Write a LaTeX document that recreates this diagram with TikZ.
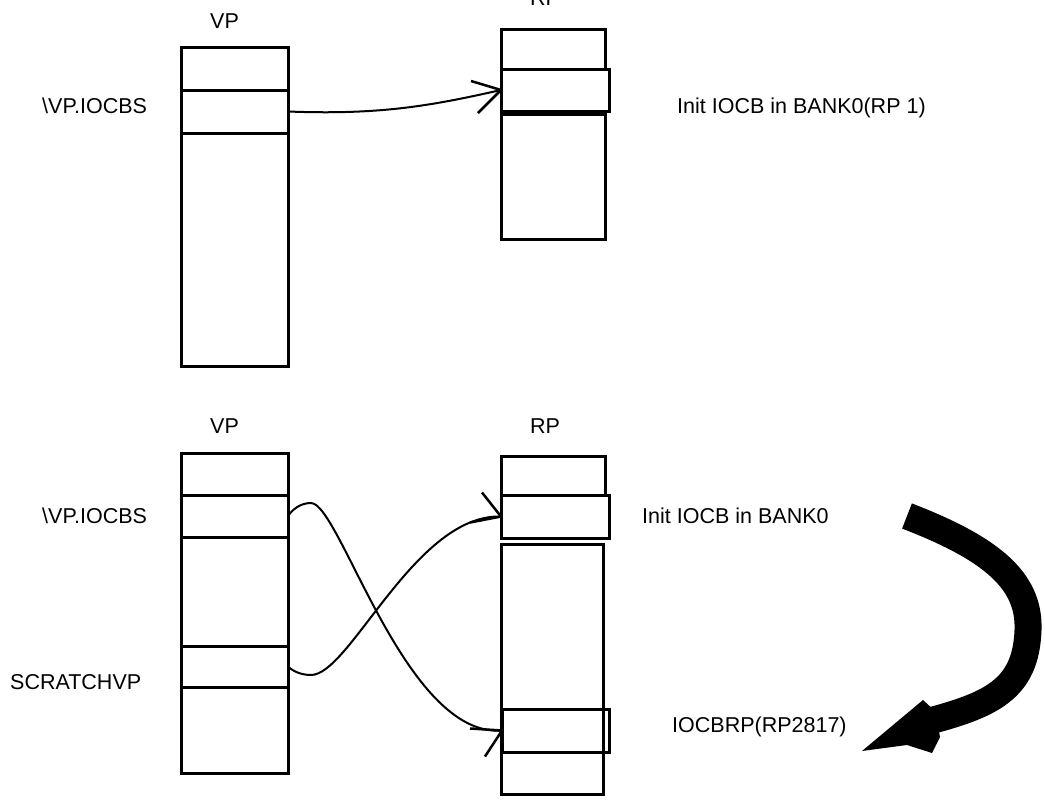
\documentclass[tikz,border=0pt]{standalone}
\usepackage{fontspec}
\setmainfont{Liberation Sans}
\begin{document}
\begin{tikzpicture}[x=1pt,y=-1pt,
  cell/.style={draw=black,line width=3pt,inner sep=0pt,outer sep=0pt,anchor=north west},
  lbl/.style={anchor=base west,inner sep=0pt,font=\fontsize{21.5}{25}\selectfont},
  link/.style={draw=black,line width=2pt},
  barb/.style={draw=black,line width=2.5pt}]
\useasboundingbox (0,0) rectangle (1045,804);
\fill[white] (0,0) rectangle (1045,804);
% ---- top VP
\node[cell,minimum width=107pt,minimum height=43pt] (vp1a) at (181,47) {};
\node[cell,minimum width=107pt,minimum height=43pt] (vp1b) at (181,90) {};
\node[cell,minimum width=107pt,minimum height=233pt] (vp1c) at (181,133) {};
% ---- top RP
\node[cell,minimum width=104pt,minimum height=40pt] (rp1a) at (501,29) {};
\node[cell,minimum width=108pt,minimum height=42pt] (rp1b) at (501,69) {};
\node[cell,minimum width=104pt,minimum height=125pt] (rp1c) at (501,114) {};
% ---- bottom VP
\node[cell,minimum width=107pt,minimum height=42pt] (vp2a) at (181,453) {};
\node[cell,minimum width=107pt,minimum height=42pt] (vp2b) at (181,495) {};
\node[cell,minimum width=107pt,minimum height=109pt] (vp2c) at (181,537) {};
\node[cell,minimum width=107pt,minimum height=41pt] (vp2d) at (181,646) {};
\node[cell,minimum width=107pt,minimum height=86pt] (vp2e) at (181,687) {};
% ---- bottom RP
\node[cell,minimum width=104pt,minimum height=39pt] (rp2a) at (501,456) {};
\node[cell,minimum width=108pt,minimum height=43pt] (rp2b) at (501,495) {};
\node[cell,minimum width=102pt,minimum height=250pt] (rp2c) at (501,544) {};
\node[cell,minimum width=107pt,minimum height=43pt] (rp2d) at (502,709) {};
% ---- labels
\node[lbl] (tvp) at (210,28) {VP};
\node[lbl] (trp) at (530,5) {RP};
\node[lbl] (tio) at (42,113) {\textbackslash VP.IOCBS};
\node[lbl] (tinit) at (677,113) {Init IOCB in BANK0(RP 1)};
\node[lbl] (bvp) at (210,433) {VP};
\node[lbl] (brp) at (530,433) {RP};
\node[lbl] (bio) at (42,523) {\textbackslash VP.IOCBS};
\node[lbl] (bscr) at (10,689) {SCRATCHVP};
\node[lbl] (binit) at (642,523) {Init IOCB in BANK0};
\node[lbl] (biocbrp) at (672,732) {IOCBRP(RP2817)};
% ---- connectors
\draw[link] (vp1b.east) .. controls (380,115) and (430,106) .. (rp1b.west);
\draw[barb] (rp1b.west) -- ++(-30,-9);
\draw[barb] (rp1b.west) -- ++(-23,23);
\coordinate (pk1) at (311,503);
\coordinate (pk2) at (311,675);
\draw[link] (vp2b.east) .. controls (295,506) and (304,503) .. (pk1)
  .. controls (340,503) and (405,738) .. (rp2d.west);
\draw[barb] (rp2d.west) -- ++(-32,-2);
\draw[barb] (rp2d.west) -- ++(-17,26);
\draw[link] (vp2d.east) .. controls (295,673) and (304,675) .. (pk2)
  .. controls (350,675) and (415,514) .. (rp2b.west);
\draw[barb] (rp2b.west) -- ++(-19,-24);
\draw[barb] (rp2b.west) -- ++(-31,6);
% ---- big black arrow
\draw[line width=27pt,black] (907,516) .. controls (990,548) and (1030,580) .. (1028,630)
  .. controls (1026,690) and (990,705) .. (926,722);
\fill[black] (862,751) -- (923,700) -- (935,711) -- (940,737) -- (932,753) -- (907,745) -- cycle;
\end{tikzpicture}
\end{document}
